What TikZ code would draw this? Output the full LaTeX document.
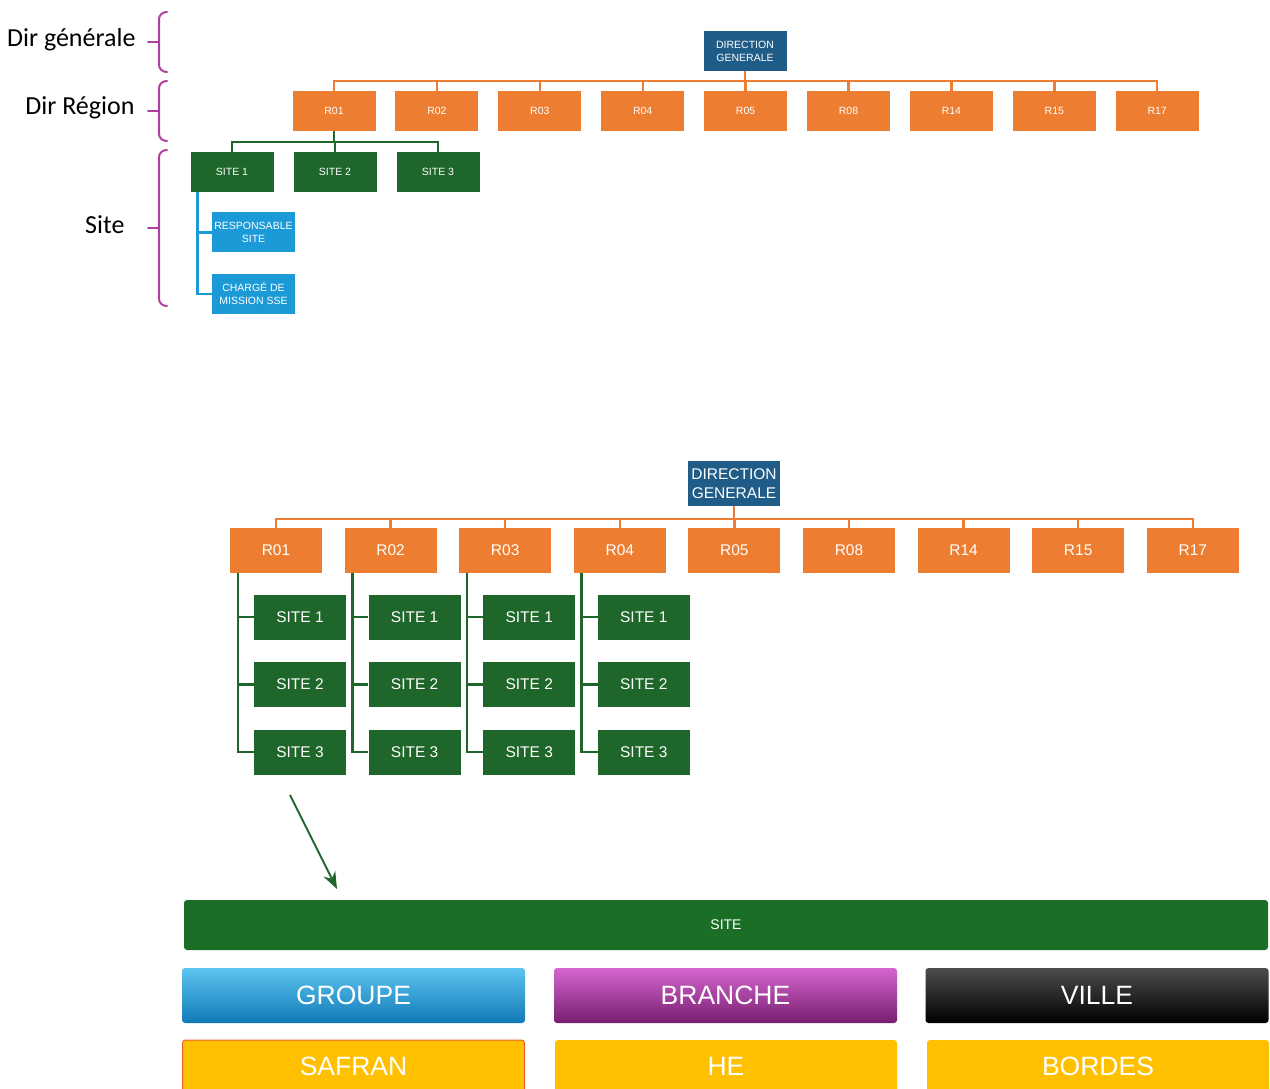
\documentclass[tikz,border=0pt]{standalone}
\usepackage{fontspec}
\setmainfont{Liberation Sans}
\newfontfamily\lblfont{Carlito}
\usetikzlibrary{positioning, calc, arrows.meta}

\definecolor{dgblue}{HTML}{1F5C87}
\definecolor{rorange}{HTML}{ED7D31}
\definecolor{sgreen}{HTML}{1E6629}
\definecolor{respblue}{HTML}{1C9AD8}
\definecolor{bracemag}{HTML}{B13FA0}
\definecolor{barngreen}{HTML}{1B6E25}
\definecolor{safyellow}{HTML}{FFC000}
\definecolor{safborder}{HTML}{E8602C}
\definecolor{groupetop}{HTML}{5CC4F0}
\definecolor{groupebot}{HTML}{117AB6}
\definecolor{branchetop}{HTML}{D466CF}
\definecolor{branchebot}{HTML}{781E70}
\definecolor{villetop}{HTML}{4D4D4D}

\begin{document}
\begin{tikzpicture}[
    x=1pt, y=-1pt,
    box/.style={rectangle, inner sep=0pt, text=white, align=center},
    dgbox/.style={box, fill=dgblue},
    rbox/.style={box, fill=rorange},
    sitebox/.style={box, fill=sgreen},
    respbox/.style={box, fill=respblue},
    small/.style={minimum width=83, minimum height=40, font=\fontsize{10.5}{13}\selectfont},
    big/.style={minimum width=92, minimum height=45, font=\fontsize{15.5}{18.5}\selectfont},
    fieldbox/.style={box, rounded corners=3pt, minimum width=343, minimum height=55, font=\fontsize{26.5}{30}\selectfont},
    valbox/.style={box, rounded corners=3pt, fill=safyellow, minimum width=342, minimum height=52, font=\fontsize{26.5}{30}\selectfont},
    orgline/.style={draw=rorange, line width=2.4pt},
    grnline/.style={draw=sgreen, line width=2.6pt},
    blueline/.style={draw=respblue, line width=2.4pt},
    lvlbrace/.style={draw=bracemag, line width=2pt, line cap=round},
    lvl/.style={anchor=east, font=\lblfont\fontsize{26}{29}\selectfont}
]
    \useasboundingbox (0,0) rectangle (1270,1089);
    \clip (0,0) rectangle (1270,1089);

    % Levels on the left
    \node[lvl] (lgen) at (139,40) {Dir générale};
    \node[lvl] (lreg) at (138,108) {Dir Région};
    \node[lvl] (lsite) at (128,225) {Site};
    \foreach \top/\bot/\mid in {12/72/42, 81/141/111, 150/306/228} {
        \draw[lvlbrace] (167,\top) to[out=180,in=90] (159,\top+7) -- (159,\bot-7) to[out=-90,in=180] (167,\bot);
        \draw[lvlbrace] (148,\mid) -- (159,\mid);
    }

    % First chart
    \node[dgbox, small] (dg1) at (745,51) {DIRECTION\\GENERALE};
    \foreach \reg [count=\i from 0] in {01,02,03,04,05,08,14,15,17} {
        \node[rbox, small] (t\reg) at (334+102.9*\i,111) {R\reg};
        \draw[orgline] (dg1.south) -- ++(0,10) -| (t\reg.north);
    }
    \foreach \s [count=\i from 0] in {1,2,3} {
        \node[sitebox, small] (ts\s) at (232+103*\i,172) {SITE \s};
        \draw[grnline] (t01.south) -- ++(0,11) -| (ts\s.north);
    }
    \node[respbox, small, below=20pt of ts1, xshift=21.5pt] (resp) {RESPONSABLE\\SITE};
    \node[respbox, small, below=21pt of resp] (charge) {CHARGÉ DE\\MISSION SSE};
    \draw[blueline] (ts1.south west) ++(7,0) |- (resp.west);
    \draw[blueline] (ts1.south west) ++(7,0) |- (charge.west);

    % Second chart
    \node[dgbox, big] (dg2) at (734,483.5) {DIRECTION\\GENERALE};
    \foreach \reg [count=\i from 0] in {01,02,03,04,05,08,14,15,17} {
        \node[rbox, big] (b\reg) at (276+114.6*\i,550.5) {R\reg};
        \draw[orgline] (dg2.south) -- ++(0,13) -| (b\reg.north);
    }
    \foreach \reg in {01,02,03,04} {
        \foreach \s [count=\j from 0] in {1,2,3} {
            \node[sitebox, big] (b\reg-s\s) at ($(b\reg)+(24,66.5+67.5*\j)$) {SITE \s};
            \draw[grnline] (b\reg.south west) ++(8,0) |- (b\reg-s\s.west);
        }
    }

    % Site fields
    \coordinate (arrfrom) at (290,795);
    \coordinate (arrto) at (337,889);
    \draw[grnline, line width=2pt, -{Stealth[length=17pt, width=13pt]}] (arrfrom) -- (arrto);

    \node[box, rounded corners=3pt, fill=barngreen, minimum width=1084, minimum height=50,
          font=\fontsize{14}{16}\selectfont] (sitebar) at (726,925) {SITE};
    \node[fieldbox, top color=groupetop, bottom color=groupebot] (groupe) at (353.5,995.5) {GROUPE};
    \node[fieldbox, top color=branchetop, bottom color=branchebot] (branche) at (725.5,995.5) {BRANCHE};
    \node[fieldbox, top color=villetop, bottom color=black] (ville) at (1097,995.5) {VILLE};
    \node[valbox, draw=safborder, line width=1pt] (safran) at (353.5,1066) {SAFRAN};
    \node[valbox] (he) at (726,1066) {HE};
    \node[valbox] (bordes) at (1098,1066) {BORDES};
\end{tikzpicture}
\end{document}
